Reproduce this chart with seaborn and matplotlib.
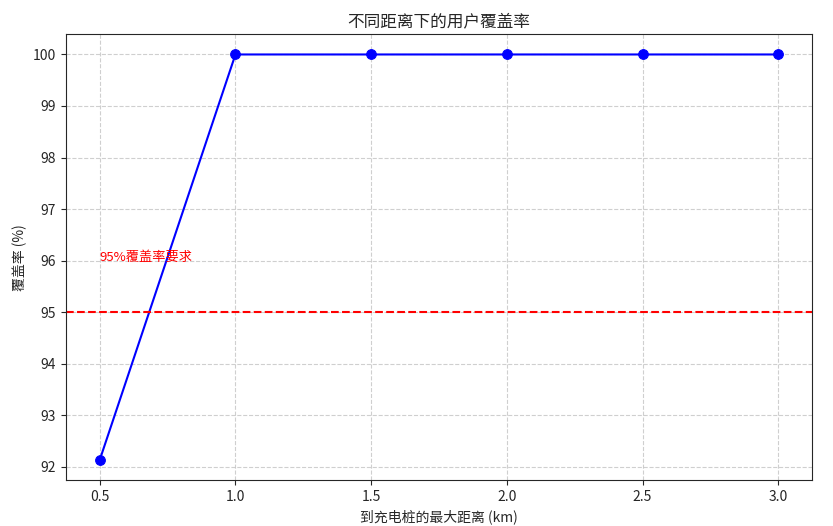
import matplotlib
matplotlib.use('Agg')
import matplotlib.pyplot as plt
import seaborn as sns
import pandas as pd

distances = [0.5, 1.0, 1.5, 2.0, 2.5, 3.0]
coverage = [92.13, 100.0, 100.0, 100.0, 100.0, 100.0]
requirement = 95
title = '不同距离下的用户覆盖率'
xlabel = '到充电桩的最大距离 (km)'
ylabel = '覆盖率 (%)'
req_label = '95%覆盖率要求'

sns.set_style('ticks')
plt.rcParams['font.family'] = ['Noto Sans CJK SC', 'DejaVu Sans']
plt.rcParams['axes.unicode_minus'] = False

df = pd.DataFrame({'distance': distances, 'coverage': coverage})

fig, ax = plt.subplots(figsize=(8.33, 5.26), dpi=100)
sns.lineplot(data=df, x='distance', y='coverage', ax=ax, color='blue',
             marker='o', markersize=7, markeredgecolor='blue', linewidth=1.5)
ax.axhline(requirement, color='red', linestyle='--', linewidth=1.5)
ax.text(distances[0], requirement + 1, req_label, color='red', fontsize=9.5)

ax.set_title(title, fontsize=12)
ax.set_xlabel(xlabel, fontsize=10)
ax.set_ylabel(ylabel, fontsize=10)
ax.grid(True, linestyle='--', color='#bbbbbb', alpha=0.7)
ax.tick_params(labelsize=10)

plt.subplots_adjust(left=0.079, right=0.975, top=0.935, bottom=0.087)
fig.savefig('out.png', dpi=100)
